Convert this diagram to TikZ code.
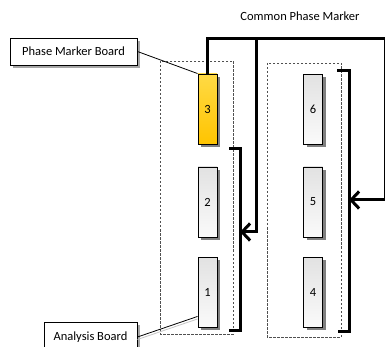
\documentclass[tikz,border=0pt]{standalone}
\usepackage{fontspec}
\setmainfont{Carlito}
\usetikzlibrary{arrows.meta,shadows,calc}
\definecolor{boardtop}{HTML}{E2E2E2}
\definecolor{boardbot}{HTML}{FAFAFA}
\definecolor{goldtop}{HTML}{FFDA45}
\definecolor{goldbot}{HTML}{FFC400}
\definecolor{shade}{HTML}{808080}
\definecolor{dashgray}{HTML}{505050}
\tikzset{
  txt/.style={font=\fontsize{12.5}{15}\selectfont, inner sep=0pt},
  board/.style={txt, draw=black, line width=0.9pt, minimum width=19pt, minimum height=70pt,
    top color=boardtop, bottom color=boardbot,
    drop shadow={shadow xshift=3pt, shadow yshift=-3pt, fill=shade, opacity=1}},
  goldboard/.style={board, top color=goldtop, bottom color=goldbot},
  labelbox/.style={txt, draw=black, line width=0.9pt, fill=white,
    drop shadow={shadow xshift=3pt, shadow yshift=-3pt, fill=gray!70, opacity=1}},
  rack/.style={draw=dashgray, line width=0.8pt, dash pattern=on 2.5pt off 1.5pt},
  bus/.style={line width=3pt, line join=miter},
  busarrow/.style={bus, -{Straight Barb[length=8pt, width=17pt]}},
  leader/.style={line width=0.8pt}
}
\begin{document}
\begin{tikzpicture}[x=1pt, y=-1pt]
  \useasboundingbox (0,0) rectangle (385,347);
  \clip (0,0) rectangle (385,347);

  % racks
  \draw[rack] (160,61) rectangle (233,334);
  \draw[rack] (267,63) rectangle (341,337);

  % boards
  \node[goldboard] (b3) at (207.5,109) {3};
  \node[board] (b2) at (207.5,202) {2};
  \node[board] (b1) at (207.5,292) {1};
  \node[board] (b6) at (313,109.5) {6};
  \node[board] (b5) at (313,202) {5};
  \node[board] (b4) at (313,292) {4};

  % labels
  \node[txt] (cpm) at (300,16) {Common Phase Marker};
  \node[labelbox, minimum width=127pt, minimum height=27pt] (pmb) at (73.5,51.5) {Phase Marker Board};
  \node[labelbox, minimum width=93pt, minimum height=30pt, text depth=0pt] (ab) at (90.5,337) {};
  \node[txt] at (90.5,337) {Analysis Board};

  % leader lines
  \draw[leader] (pmb.east) -- (b3.north west);
  \coordinate (b1tip) at ($(b1.south west)+(0,-11)$);
  \draw[leader, gray!45] ($(ab.east)+(0,2.5)$) -- ($(b1tip)+(0,2.5)$);
  \draw[leader] (ab.east) -- (b1tip);

  % backplane brackets
  \coordinate (lt) at (229,149);
  \coordinate (lb) at (229,330);
  \coordinate (rt) at (337,71);
  \coordinate (rb) at (338,331);
  \draw[bus] (lt) -- (240,149) -- (240,330) -- (lb);
  \draw[bus] (rt) -- (349,71) -- (349,331) -- (rb);
  \coordinate (lin) at (240,232);
  \coordinate (rin) at (349,200);

  % common phase marker distribution
  \coordinate (junc) at (256,39);
  \draw[busarrow] (b3.north) |- (junc) -- (385.8,39) -- (385.8,200) -- (rin);
  \draw[busarrow] (junc) |- (lin);
\end{tikzpicture}
\end{document}
